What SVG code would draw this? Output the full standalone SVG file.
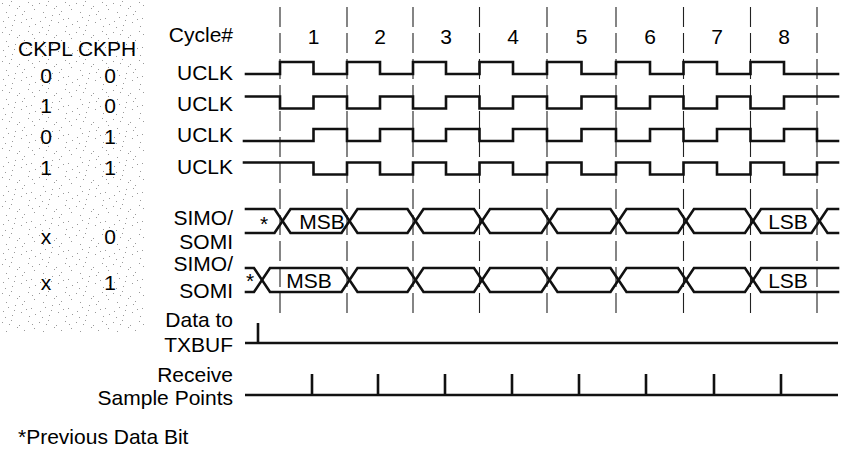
<svg xmlns="http://www.w3.org/2000/svg" width="841" height="452" viewBox="0 0 841 452">
<style>
text{font-family:"Liberation Sans",Arial,sans-serif;font-size:21px;fill:#000}
.r{text-anchor:end}
.m{text-anchor:middle}
.w{fill:none;stroke:#111;stroke-width:2.6;stroke-linejoin:miter;stroke-linecap:square}
.d{fill:none;stroke:#222;stroke-width:1.1;stroke-dasharray:20 6}
.t{stroke:#111;stroke-width:2.6;fill:none}
</style>
<defs>
<pattern id="sp" width="37" height="29" patternUnits="userSpaceOnUse">
<g fill="#9a9a9a">
<rect x="2" y="3" width="1" height="1"/><rect x="11" y="1" width="1" height="1"/><rect x="19" y="6" width="1" height="1"/>
<rect x="28" y="2" width="1" height="1"/><rect x="34" y="9" width="1" height="1"/><rect x="6" y="12" width="1" height="1"/>
<rect x="15" y="15" width="1" height="1"/><rect x="24" y="11" width="1" height="1"/><rect x="31" y="18" width="1" height="1"/>
<rect x="3" y="21" width="1" height="1"/><rect x="12" y="25" width="1" height="1"/><rect x="21" y="22" width="1" height="1"/>
<rect x="29" y="26" width="1" height="1"/><rect x="8" y="17" width="1" height="1"/><rect x="17" y="8" width="1" height="1"/>
<rect x="26" y="19" width="1" height="1"/><rect x="35" y="24" width="1" height="1"/><rect x="9" y="5" width="1" height="1"/>
<rect x="22" y="14" width="1" height="1"/><rect x="32" y="5" width="1" height="1"/><rect x="5" y="27" width="1" height="1"/>
<rect x="14" y="20" width="1" height="1"/>
</g>
</pattern>
</defs>
<rect x="0" y="0" width="841" height="452" fill="#fff"/>
<rect id="stipple" x="0" y="0" width="145" height="332" fill="url(#sp)"/>

<g id="table">
<text x="18" y="55.5">CKPL CKPH</text>
<text class="m" x="46" y="83">0</text><text class="m" x="110" y="83">0</text>
<text class="m" x="46" y="113">1</text><text class="m" x="110" y="113">0</text>
<text class="m" x="46" y="144">0</text><text class="m" x="110" y="144">1</text>
<text class="m" x="46" y="175">1</text><text class="m" x="110" y="175">1</text>
<text class="m" x="46" y="244">x</text><text class="m" x="110" y="244">0</text>
<text class="m" x="46" y="290">x</text><text class="m" x="110" y="290">1</text>
</g>

<g id="labels">
<text class="r" x="233" y="42">Cycle#</text>
<text class="r" x="233" y="80">UCLK</text>
<text class="r" x="233" y="111">UCLK</text>
<text class="r" x="233" y="142">UCLK</text>
<text class="r" x="233" y="174">UCLK</text>
<text class="r" x="233" y="225">SIMO/</text>
<text class="r" x="233" y="249">SOMI</text>
<text class="r" x="233" y="271">SIMO/</text>
<text class="r" x="233" y="298">SOMI</text>
<text class="r" x="233" y="327">Data to</text>
<text class="r" x="233" y="352">TXBUF</text>
<text class="r" x="233" y="382">Receive</text>
<text class="r" x="233" y="405">Sample Points</text>
<text x="18" y="444">*Previous Data Bit</text>
</g>

<g id="cycles">
<text class="m" x="313.5" y="44">1</text>
<text class="m" x="380" y="44">2</text>
<text class="m" x="446" y="44">3</text>
<text class="m" x="513" y="44">4</text>
<text class="m" x="581.5" y="44">5</text>
<text class="m" x="650" y="44">6</text>
<text class="m" x="717" y="44">7</text>
<text class="m" x="784" y="44">8</text>
</g>

<g id="gridlines">
<line class="d" x1="280" y1="7" x2="280" y2="318"/>
<line class="d" x1="347" y1="7" x2="347" y2="318"/>
<line class="d" x1="413" y1="7" x2="413" y2="318"/>
<line class="d" x1="479.5" y1="7" x2="479.5" y2="318"/>
<line class="d" x1="547" y1="7" x2="547" y2="318"/>
<line class="d" x1="616" y1="7" x2="616" y2="318"/>
<line class="d" x1="683.5" y1="7" x2="683.5" y2="318"/>
<line class="d" x1="750.5" y1="7" x2="750.5" y2="318"/>
<line class="d" x1="817" y1="7" x2="817" y2="318"/>
</g>

<g id="uclk1"><path class="w" d="M246 74H280V62H313.5V74H347V62H380V74H413V62H446V74H479.5V62H513V74H547V62H581.5V74H616V62H650V74H683.5V62H717V74H750.5V62H784V74H838"/></g>
<g id="uclk2"><path class="w" d="M246 96.5H280V108.5H313.5V96.5H347V108.5H380V96.5H413V108.5H446V96.5H479.5V108.5H513V96.5H547V108.5H581.5V96.5H616V108.5H650V96.5H683.5V108.5H717V96.5H750.5V108.5H784V96.5H838"/></g>
<g id="uclk3"><path class="w" d="M244 141H313.5V129H347V141H380V129H413V141H446V129H479.5V141H513V129H547V141H581.5V129H616V141H650V129H683.5V141H717V129H750.5V141H784V129H817V141H838"/></g>
<g id="uclk4"><path class="w" d="M244 162.5H313.5V174.5H347V162.5H380V174.5H413V162.5H446V174.5H479.5V162.5H513V174.5H547V162.5H581.5V174.5H616V162.5H650V174.5H683.5V162.5H717V174.5H750.5V162.5H784V174.5H817V162.5H838"/></g>

<g id="simo1">
<path class="w" d="M246 209H274.5L290.5 233H341.5L357.5 209H407.5L423.5 233H474L490 209H541.5L557.5 233H610.5L626.5 209H678L694 233H745L761 209H811.5L827.5 233H838"/>
<path class="w" d="M246 233H274.5L290.5 209H341.5L357.5 233H407.5L423.5 209H474L490 233H541.5L557.5 209H610.5L626.5 233H678L694 209H745L761 233H811.5L827.5 209H838"/>
<text class="m" x="264" y="231">*</text>
<text class="m" x="322" y="229">MSB</text>
<text class="m" x="788" y="229">LSB</text>
</g>

<g id="simo2">
<path class="w" d="M246 268H254L270 292H341.5L357.5 268H407.5L423.5 292H474L490 268H541.5L557.5 292H610.5L626.5 268H678L694 292H745L761 268H838"/>
<path class="w" d="M246 292H254L270 268H341.5L357.5 292H407.5L423.5 268H474L490 292H541.5L557.5 268H610.5L626.5 292H678L694 268H745L761 292H838"/>
<text class="m" x="250" y="288">*</text>
<text class="m" x="309" y="287.5">MSB</text>
<text class="m" x="788" y="287.5">LSB</text>
</g>

<g id="txbuf">
<path class="t" d="M245 343H838M258 323V343"/>
</g>

<g id="sample">
<path class="t" d="M245 395H838M312 374V395M378 374V395M445 374V395M512 374V395M579 374V395M646 374V395M714 374V395M781 374V395"/>
</g>
</svg>
